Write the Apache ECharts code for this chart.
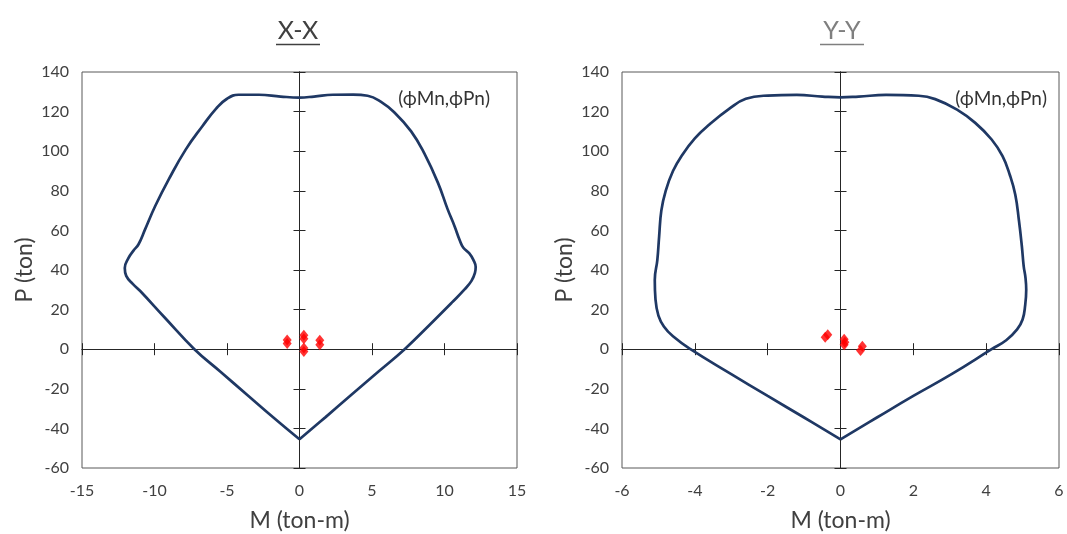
<!DOCTYPE html>
<html>
<head>
<meta charset="utf-8">
<script src="https://cdn.jsdelivr.net/npm/echarts@6/dist/echarts.min.js"></script>
<style>html,body{margin:0;padding:0;background:#fff;}#c{width:1067px;height:534px;}</style>
</head>
<body>
<div id="c"></div>
<script>
// ---- Data ----
const titles = ['X-X', 'Y-Y'];
const legendText = '(ϕMn,ϕPn)';
const xAxisName = 'M (ton-m)';
const yAxisName = 'P (ton)';

// X-X interaction curve (M, P)
const xxCurveM = [0, 1.8, 3.6, 5.45, 7.25, 9.0, 10.5, 11.4, 11.86, 12.1, 12.15, 12.0, 11.7, 11.3, 11.05, 10.7, 10.2, 9.55, 8.6, 7.7, 6.55, 5.6, 4.7, 3.7, 2.3, 1.0, 0, -1.3, -2.8, -4.2, -5.0, -5.75, -6.7, -7.85, -9.0, -9.95, -10.65, -11.1, -11.45, -11.8, -12.05, -11.95, -11.5, -11.0, -9.3, -7.25, -5.45, -3.6, -1.8, 0];
const xxCurveP = [-45.5, -34.3, -22.9, -11.3, 0, 12.5, 23.5, 30.3, 34.5, 38.5, 41.5, 45, 48.5, 51.2, 55, 62, 71, 84, 99, 110, 119.5, 125, 128, 128.6, 128.5, 127.6, 127.1, 127.6, 128.5, 128.5, 126.5, 121.5, 112.6, 100.8, 86, 72.3, 60.5, 53, 49.8, 46, 41, 37, 33, 29.5, 16, 0, -11.4, -23.1, -34.5, -45.5];
// X-X design points (M, P)
const xxPtsM = [-0.85, -0.85, 0.3, 0.3, 0.3, 0.3, 1.4, 1.4];
const xxPtsP = [4.6, 2.9, 7.0, 5.3, 0.6, -1.2, 4.5, 2.2];

// Y-Y interaction curve (M, P)
const yyCurveM = [0, 1.0, 2.0, 3.05, 4.15, 4.55, 4.85, 5.0, 5.07, 5.1, 5.08, 5.03, 4.98, 4.9, 4.8, 4.65, 4.45, 4.15, 3.7, 3.2, 2.6, 2.15, 1.25, 0.5, 0, -0.5, -1.2, -2.0, -2.6, -3.05, -3.6, -4.0, -4.35, -4.6, -4.8, -4.92, -4.98, -5.03, -5.1, -5.08, -5.0, -4.85, -4.6, -4.12, -3.0, -2.0, -1.0, 0];
const yyCurveP = [-45.5, -34.5, -23.6, -12.6, 0, 4.5, 10, 15, 22, 30, 36, 42, 52, 65, 78, 88, 97.5, 105.9, 114.3, 121, 126.3, 128, 128.4, 127.6, 127.2, 127.6, 128.4, 128.1, 126.5, 121.5, 113.5, 106.5, 98, 90, 80, 70, 57, 45, 35, 25, 17, 11.5, 6.5, 0, -12.6, -23.6, -34.5, -45.5];
// Y-Y design points (M, P)
const yyPtsM = [-0.42, -0.35, 0.1, 0.12, 0.1, 0.6, 0.55];
const yyPtsP = [6.0, 7.3, 5.0, 3.5, 2.2, 1.5, -0.6];

// Axis ranges / ticks
const xRanges = [[-15, 15, 5], [-6, 6, 2]];
const yRange = [-60, 140, 20];

// ---- Chart ----
const FONT = 'Lato, "Open Sans", sans-serif';
const zip = (a, b) => a.map((v, i) => [v, b[i]]);
const grids = [
  { left: 82, right: 550, top: 72, bottom: 66, show: true, borderColor: '#595959', borderWidth: 1, containLabel: false, outerBoundsMode: 'none' },
  { left: 622, right: 8, top: 72, bottom: 66, show: true, borderColor: '#595959', borderWidth: 1, containLabel: false, outerBoundsMode: 'none' }
];
const xAxes = [], yAxes = [];
[0, 1].forEach(g => {
  const [xmin, xmax, xint] = xRanges[g];
  const base = g * 3;
  xAxes.push({
    type: 'value', gridIndex: g, min: xmin, max: xmax, interval: xint, position: 'bottom',
    axisLine: { show: false, onZero: false }, axisTick: { show: false }, splitLine: { show: false },
    axisLabel: { color: '#404040', fontSize: 16, fontFamily: FONT, margin: 15 },
    name: xAxisName, nameLocation: 'middle', nameGap: 41,
    nameTextStyle: { color: '#404040', fontSize: 23, fontFamily: FONT }
  });
  [false, true].forEach(inside => xAxes.push({
    type: 'value', gridIndex: g, min: xmin, max: xmax, interval: xint, position: 'bottom',
    axisLine: { show: true, onZero: true, onZeroAxisIndex: base, lineStyle: { color: '#262626', width: 1 } },
    axisTick: { show: true, inside: inside, length: 6, lineStyle: { color: '#262626', width: 1 } },
    axisLabel: { show: false }, splitLine: { show: false }
  }));
  yAxes.push({
    type: 'value', gridIndex: g, min: yRange[0], max: yRange[1], interval: yRange[2], position: 'left',
    axisLine: { show: false, onZero: false }, axisTick: { show: false }, splitLine: { show: false },
    axisLabel: { color: '#404040', fontSize: 16, fontFamily: FONT, margin: 13 },
    name: yAxisName, nameLocation: 'middle', nameGap: 46,
    nameTextStyle: { color: '#404040', fontSize: 23, fontFamily: FONT }
  });
  [false, true].forEach(inside => yAxes.push({
    type: 'value', gridIndex: g, min: yRange[0], max: yRange[1], interval: yRange[2], position: 'left',
    axisLine: { show: true, onZero: true, onZeroAxisIndex: base, lineStyle: { color: '#262626', width: 1 } },
    axisTick: { show: true, inside: inside, length: 6, lineStyle: { color: '#262626', width: 1 } },
    axisLabel: { show: false }, splitLine: { show: false }
  }));
});

const curveStyle = { color: '#1F3864', width: 2.7 };
const series = [
  { type: 'line', xAxisIndex: 0, yAxisIndex: 0, data: zip(xxCurveM, xxCurveP), showSymbol: false, smooth: 0.45, lineStyle: curveStyle, itemStyle: { color: '#1F3864' }, z: 3 },
  { type: 'scatter', xAxisIndex: 0, yAxisIndex: 0, data: zip(xxPtsM, xxPtsP), symbol: 'diamond', symbolSize: [9, 11], itemStyle: { color: '#FF0000' }, z: 4 },
  { type: 'line', xAxisIndex: 3, yAxisIndex: 3, data: zip(yyCurveM, yyCurveP), showSymbol: false, smooth: 0.45, lineStyle: curveStyle, itemStyle: { color: '#1F3864' }, z: 3 },
  { type: 'scatter', xAxisIndex: 3, yAxisIndex: 3, data: zip(yyPtsM, yyPtsP), symbol: 'diamond', symbolSize: [9, 11], itemStyle: { color: '#FF0000' }, z: 4 }
];

const titleColors = ['#404040', '#7F7F7F'];
const titleCenters = [298, 842];
const graphic = [];
titles.forEach((t, i) => {
  graphic.push({ type: 'text', x: titleCenters[i], y: 31, style: { text: t, font: '25px ' + FONT, fill: titleColors[i], textAlign: 'center', align: 'center', textVerticalAlign: 'middle', verticalAlign: 'middle' } });
  graphic.push({ type: 'line', shape: { x1: titleCenters[i] - 22, y1: 44.5, x2: titleCenters[i] + 22, y2: 44.5 }, style: { stroke: titleColors[i], lineWidth: 1.3 } });
});
const legendX = [490, 1047];
legendX.forEach(x => graphic.push({ type: 'text', x: x, y: 99, style: { text: legendText, font: '19px ' + FONT, fill: '#333333', textAlign: 'right', align: 'right', textVerticalAlign: 'middle', verticalAlign: 'middle' } }));

const chart = echarts.init(document.getElementById('c'), null, { renderer: 'canvas' });
chart.setOption({
  animation: false,
  backgroundColor: '#ffffff',
  grid: grids,
  xAxis: xAxes,
  yAxis: yAxes,
  series: series,
  graphic: graphic
});
</script>
</body>
</html>
